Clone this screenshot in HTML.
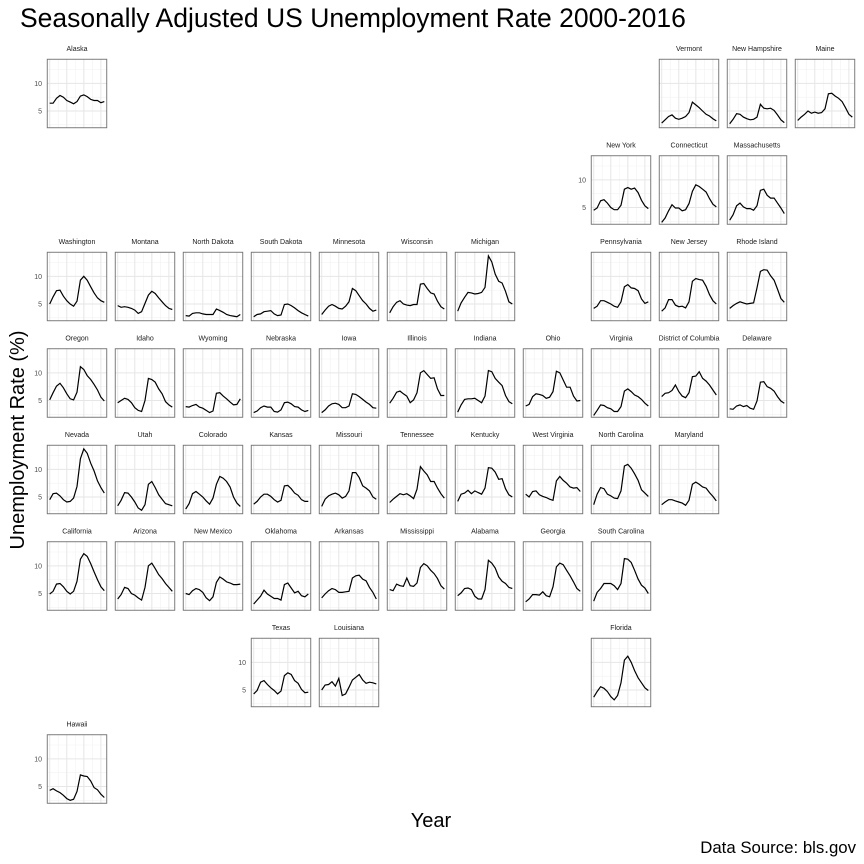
<!DOCTYPE html>
<html><head><meta charset="utf-8"><style>
html,body{margin:0;padding:0;background:#fff}
svg{display:block}
text{font-family:"Liberation Sans",sans-serif}
</style></head><body>
<svg id="s" width="864" height="864" xmlns="http://www.w3.org/2000/svg">
<text x="20" y="27" font-size="26.5" fill="#000">Seasonally Adjusted US Unemployment Rate 2000-2016</text>
<text transform="translate(24,440) rotate(-90)" text-anchor="middle" font-size="20" fill="#000">Unemployment Rate (%)</text>
<text x="431" y="827" text-anchor="middle" font-size="20" fill="#000">Year</text>
<text x="856" y="853" text-anchor="end" font-size="16.8" fill="#000">Data Source: bls.gov</text>
<g id="g"></g>
</svg>
<script>
var D={
AK:["Alaska",0,0,[6.4,6.4,7.3,7.8,7.5,6.9,6.6,6.3,6.7,7.7,7.9,7.6,7.1,6.9,6.9,6.5,6.7]],
VT:["Vermont",0,9,[2.8,3.4,4.0,4.3,3.7,3.5,3.7,4.0,4.7,6.6,6.1,5.6,5.0,4.4,4.1,3.6,3.2]],
NH:["New Hampshire",0,10,[2.7,3.5,4.5,4.4,3.9,3.6,3.4,3.5,3.9,6.2,5.5,5.4,5.5,5.1,4.3,3.4,2.9]],
ME:["Maine",0,11,[3.3,3.9,4.4,5.0,4.6,4.8,4.6,4.7,5.4,8.1,8.2,7.7,7.3,6.7,5.6,4.4,3.9]],
NY:["New York",1,8,[4.5,4.9,6.2,6.4,5.8,5.0,4.6,4.6,5.4,8.3,8.6,8.3,8.5,7.7,6.3,5.3,4.8]],
CT:["Connecticut",1,9,[2.3,3.1,4.4,5.5,4.9,4.9,4.4,4.6,5.7,7.9,9.1,8.8,8.3,7.8,6.6,5.6,5.1]],
MA:["Massachusetts",1,10,[2.7,3.7,5.3,5.8,5.1,4.8,4.8,4.5,5.3,8.1,8.3,7.2,6.7,6.7,5.8,4.9,3.9]],
WA:["Washington",2,0,[5.0,6.3,7.4,7.5,6.4,5.6,5.0,4.6,5.5,9.3,10.0,9.3,8.1,7.0,6.1,5.6,5.3]],
MT:["Montana",2,1,[4.7,4.4,4.5,4.4,4.2,3.9,3.3,3.6,5.1,6.6,7.3,6.9,6.1,5.4,4.7,4.2,4.0]],
ND:["North Dakota",2,2,[2.9,2.8,3.3,3.4,3.4,3.2,3.1,3.1,3.1,4.1,3.8,3.5,3.1,2.9,2.8,2.7,3.1]],
SD:["South Dakota",2,3,[2.7,3.1,3.2,3.6,3.7,3.8,3.2,2.9,3.0,4.9,5.0,4.7,4.3,3.8,3.4,3.1,2.8]],
MN:["Minnesota",2,4,[3.1,3.9,4.6,4.9,4.6,4.2,4.1,4.6,5.4,7.8,7.4,6.5,5.6,5.0,4.2,3.7,3.9]],
WI:["Wisconsin",2,5,[3.4,4.5,5.3,5.6,5.0,4.8,4.7,4.9,4.9,8.6,8.7,7.8,7.0,6.8,5.5,4.5,4.1]],
MI:["Michigan",2,6,[3.7,5.2,6.2,7.1,7.0,6.8,6.9,7.1,8.0,13.7,12.6,10.4,9.1,8.8,7.3,5.4,5.0]],
PA:["Pennsylvania",2,8,[4.2,4.6,5.6,5.6,5.3,5.0,4.6,4.4,5.4,8.1,8.5,7.9,7.8,7.4,5.9,5.1,5.4]],
NJ:["New Jersey",2,9,[3.7,4.3,5.8,5.8,4.8,4.5,4.6,4.3,5.4,9.1,9.6,9.4,9.3,8.2,6.7,5.6,5.0]],
RI:["Rhode Island",2,10,[4.2,4.7,5.1,5.4,5.2,5.0,5.1,5.2,7.9,10.9,11.2,11.1,10.1,9.3,7.7,6.0,5.3]],
OR:["Oregon",3,0,[5.1,6.4,7.6,8.1,7.3,6.2,5.3,5.1,6.5,11.1,10.6,9.5,8.8,7.9,6.9,5.6,4.9]],
ID:["Idaho",3,1,[4.6,5.0,5.4,5.2,4.6,3.7,3.2,3.0,5.0,9.0,8.8,8.3,7.1,6.2,4.8,4.2,3.8]],
WY:["Wyoming",3,2,[3.9,3.8,4.1,4.3,3.8,3.6,3.2,2.8,3.1,6.3,6.4,5.8,5.3,4.7,4.2,4.3,5.3]],
NE:["Nebraska",3,3,[2.8,3.1,3.7,4.0,3.8,3.8,3.0,2.9,3.3,4.6,4.7,4.4,3.9,3.8,3.3,3.0,3.2]],
IA:["Iowa",3,4,[2.8,3.3,4.0,4.4,4.5,4.3,3.7,3.7,4.0,6.2,6.1,5.7,5.2,4.7,4.3,3.7,3.6]],
IL:["Illinois",3,5,[4.5,5.4,6.5,6.7,6.2,5.8,4.6,5.1,6.4,10.0,10.4,9.7,9.0,9.1,7.1,5.9,5.9]],
IN:["Indiana",3,6,[2.9,4.2,5.2,5.3,5.3,5.4,5.0,4.6,5.8,10.4,10.2,9.0,8.3,7.7,5.9,4.8,4.4]],
OH:["Ohio",3,7,[4.0,4.3,5.7,6.2,6.1,5.9,5.4,5.6,6.6,10.3,10.0,8.7,7.4,7.4,5.8,4.9,5.0]],
VA:["Virginia",3,8,[2.3,3.2,4.2,4.1,3.7,3.5,3.0,3.0,3.9,6.7,7.1,6.6,6.0,5.7,5.2,4.5,4.0]],
DC:["District of Columbia",3,9,[5.7,6.3,6.4,6.8,7.8,6.6,5.8,5.5,6.4,9.3,9.4,10.2,9.0,8.5,7.8,6.9,6.0]],
DE:["Delaware",3,10,[3.5,3.4,4.0,4.2,3.9,4.1,3.6,3.4,4.9,8.3,8.4,7.5,7.2,6.7,5.7,4.9,4.5]],
NV:["Nevada",4,0,[4.5,5.6,5.7,5.2,4.5,4.1,4.2,4.8,6.9,11.9,13.7,12.9,11.1,9.7,7.9,6.7,5.7]],
UT:["Utah",4,1,[3.4,4.4,5.8,5.7,5.0,4.1,3.0,2.6,3.6,7.3,7.8,6.7,5.4,4.6,3.8,3.6,3.4]],
CO:["Colorado",4,2,[2.8,3.8,5.6,6.0,5.5,5.0,4.3,3.7,4.8,7.3,8.7,8.4,7.8,6.8,5.0,3.9,3.3]],
KS:["Kansas",4,3,[3.7,4.2,5.0,5.5,5.5,5.1,4.5,4.1,4.4,7.0,7.1,6.5,5.7,5.3,4.5,4.2,4.2]],
MO:["Missouri",4,4,[3.3,4.6,5.2,5.5,5.7,5.4,4.8,5.1,6.1,9.4,9.4,8.5,7.0,6.6,6.1,5.0,4.6]],
TN:["Tennessee",4,5,[4.0,4.6,5.1,5.6,5.4,5.6,5.2,4.7,6.4,10.5,9.7,9.0,7.8,7.8,6.6,5.6,4.8]],
KY:["Kentucky",4,6,[4.2,5.5,5.7,6.2,5.6,6.1,5.8,5.5,6.6,10.3,10.2,9.5,8.2,8.3,6.5,5.4,5.0]],
WV:["West Virginia",4,7,[5.5,5.0,6.0,6.1,5.4,5.1,4.9,4.6,4.4,7.9,8.7,8.0,7.5,6.8,6.6,6.7,6.0]],
NC:["North Carolina",4,8,[3.6,5.5,6.7,6.5,5.5,5.2,4.8,4.7,6.1,10.6,10.9,10.2,9.2,8.0,6.3,5.7,5.1]],
MD:["Maryland",4,9,[3.6,4.1,4.5,4.5,4.3,4.1,3.9,3.5,4.4,7.3,7.7,7.3,6.8,6.6,5.8,5.1,4.3]],
CA:["California",5,0,[4.9,5.4,6.7,6.8,6.2,5.4,4.9,5.4,7.2,11.2,12.2,11.7,10.4,8.9,7.5,6.2,5.5]],
AZ:["Arizona",5,1,[4.0,4.8,6.1,5.9,5.0,4.7,4.2,3.8,6.1,10.0,10.5,9.5,8.4,7.7,6.8,6.1,5.4]],
NM:["New Mexico",5,2,[5.0,4.8,5.5,5.9,5.7,5.2,4.2,3.7,4.4,7.0,8.0,7.6,7.1,6.9,6.6,6.6,6.7]],
OK:["Oklahoma",5,3,[3.1,3.8,4.5,5.6,4.9,4.5,4.1,4.1,3.8,6.6,6.9,6.0,5.1,5.4,4.6,4.4,4.9]],
AR:["Arkansas",5,4,[4.2,4.9,5.5,5.9,5.7,5.2,5.2,5.3,5.4,7.8,8.2,8.3,7.6,7.3,6.1,5.2,4.0]],
MS:["Mississippi",5,5,[5.7,5.5,6.7,6.4,6.3,7.8,6.4,6.3,6.9,9.7,10.4,10.0,9.2,8.6,7.7,6.4,5.8]],
AL:["Alabama",5,6,[4.6,5.1,5.9,6.0,5.7,4.5,4.0,4.0,5.7,11.0,10.5,9.6,8.0,7.2,6.8,6.1,5.9]],
GA:["Georgia",5,7,[3.5,4.0,4.8,4.8,4.7,5.3,4.6,4.4,6.2,9.8,10.5,10.2,9.2,8.2,7.1,5.9,5.4]],
SC:["South Carolina",5,8,[3.6,5.2,5.9,6.8,6.8,6.8,6.4,5.7,6.8,11.3,11.2,10.6,9.2,7.6,6.5,6.0,5.0]],
TX:["Texas",6,3,[4.3,4.9,6.4,6.7,6.0,5.4,4.9,4.3,4.8,7.6,8.1,7.8,6.7,6.2,5.1,4.5,4.6]],
LA:["Louisiana",6,4,[5.0,5.9,6.0,6.5,5.7,7.1,4.0,4.3,5.5,6.8,7.3,7.8,6.8,6.2,6.4,6.3,6.1]],
FL:["Florida",6,8,[3.7,4.7,5.6,5.3,4.7,3.8,3.2,4.0,6.3,10.4,11.1,10.0,8.5,7.2,6.3,5.4,4.9]],
HI:["Hawaii",7,0,[4.3,4.6,4.2,3.9,3.4,2.8,2.5,2.7,4.1,7.1,6.9,6.8,6.0,4.8,4.4,3.6,3.0]]
};
var first={0:"AK",1:"NY",2:"WA",3:"OR",4:"NV",5:"CA",6:"TX",7:"HI"};
var W=60,H=69,out="";
for(var k in D){var d=D[k],r=d[1],c=d[2],x0=47+68*c,y0=59+96.5*r;
 function X(t){return x0+2.73+t*3.41}
 function Y(v){return y0+(14.4-v)*5.53}
 out+='<rect x="'+x0+'" y="'+y0+'" width="'+W+'" height="'+H+'" fill="#fff"/>';
 [2.5,7.5,12.5].forEach(function(v){out+='<line x1="'+x0+'" x2="'+(x0+W)+'" y1="'+Y(v)+'" y2="'+Y(v)+'" stroke="#f2f2f2" stroke-width="0.6"/>'});
 [2.5,7.5,12.5].forEach(function(t){out+='<line y1="'+y0+'" y2="'+(y0+H)+'" x1="'+X(t)+'" x2="'+X(t)+'" stroke="#f2f2f2" stroke-width="0.6"/>'});
 [5,10].forEach(function(v){out+='<line x1="'+x0+'" x2="'+(x0+W)+'" y1="'+Y(v)+'" y2="'+Y(v)+'" stroke="#e6e6e6" stroke-width="1"/>'});
 [0,5,10,15].forEach(function(t){out+='<line y1="'+y0+'" y2="'+(y0+H)+'" x1="'+X(t)+'" x2="'+X(t)+'" stroke="#e6e6e6" stroke-width="1"/>'});
 var p=d[3].map(function(v,i){return X(i).toFixed(1)+','+Y(v).toFixed(1)}).join(' ');
 out+='<polyline points="'+p+'" fill="none" stroke="#000" stroke-width="1.2"/>';
 out+='<rect x="'+(x0+0.25)+'" y="'+(y0+0.25)+'" width="'+(W-0.5)+'" height="'+(H-0.5)+'" fill="none" stroke="#6f6f6f" stroke-width="0.9"/>';
 out+='<text x="'+(x0+W/2)+'" y="'+(y0-8)+'" text-anchor="middle" font-size="7" fill="#1a1a1a">'+d[0]+'</text>';
 if(first[r]==k){out+='<text x="'+(x0-5)+'" y="'+(Y(10)+2.5)+'" text-anchor="end" font-size="7" fill="#4d4d4d">10</text><text x="'+(x0-5)+'" y="'+(Y(5)+2.5)+'" text-anchor="end" font-size="7" fill="#4d4d4d">5</text>';}
}
document.getElementById("g").innerHTML=out;
</script>
</body></html>
